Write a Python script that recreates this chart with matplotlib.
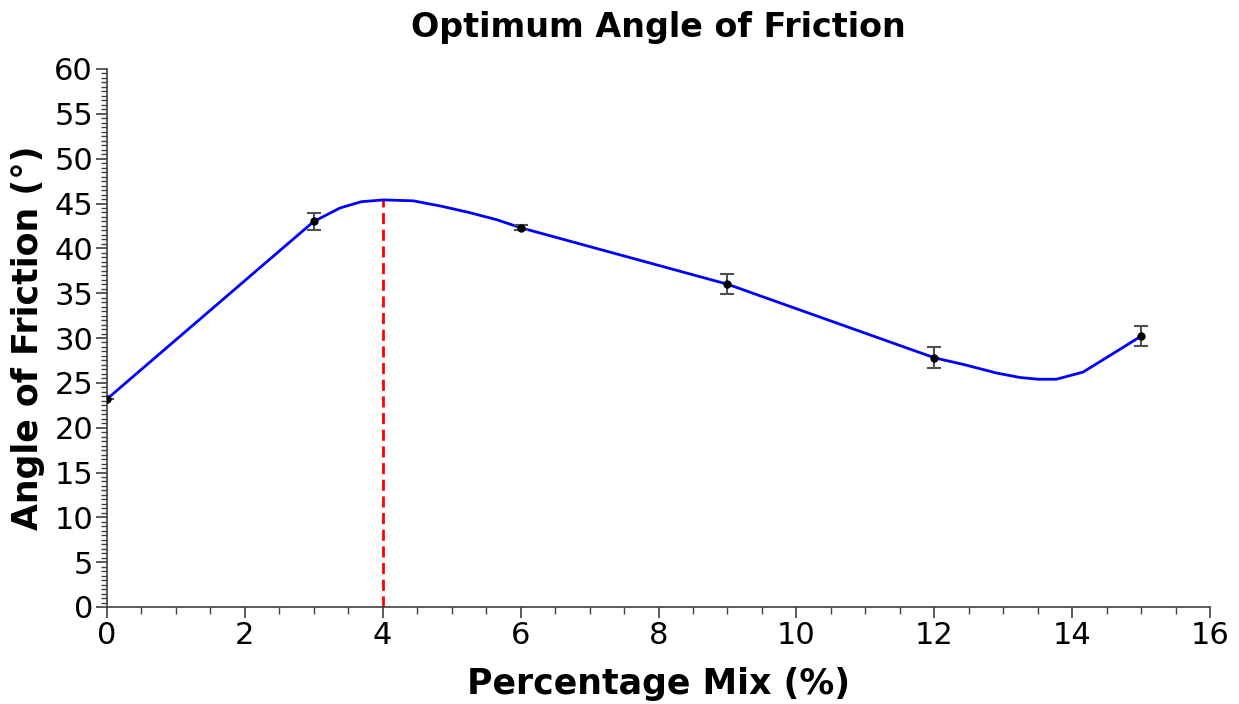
import matplotlib
matplotlib.use("Agg")
import matplotlib.pyplot as plt
from matplotlib.ticker import MultipleLocator

# measured points
mix = [0, 3, 6, 9, 12, 15]
angle = [23.2, 43.0, 42.3, 36.0, 27.8, 30.2]
err = [0.0, 0.9, 0.3, 1.1, 1.2, 1.1]

# smoothed curve vertices
curve_x = [0, 3.0, 3.38, 3.69, 4.01, 4.44, 4.85, 5.25, 5.65, 6.0, 9.0, 12.0, 12.45, 12.9, 13.24, 13.51, 13.77, 14.16, 15.0]
curve_y = [23.2, 43.0, 44.5, 45.2, 45.4, 45.3, 44.7, 44.0, 43.2, 42.3, 36.0, 27.8, 27.0, 26.1, 25.6, 25.4, 25.4, 26.2, 30.2]

optimum_x = 4.0
optimum_y = 45.4

plt.rcParams['font.family'] = ['DejaVu Sans']

fig = plt.figure(figsize=(12.39, 7.04), dpi=100)
ax = fig.add_axes([107/1239, 1-607/704, (1210-107)/1239, (607-69)/704])

ax.plot(curve_x, curve_y, color='#0000ff', lw=2, zorder=3)
ax.errorbar(mix, angle, yerr=err, fmt='o', color='black', ms=5, ecolor='#505050',
            elinewidth=1.5, capsize=5, capthick=1.5, zorder=4)
ax.plot([optimum_x, optimum_x], [0, optimum_y], color='#ff0000', lw=2, ls=(0, (4, 2)), zorder=2)

ax.set_xlim(0, 16)
ax.set_ylim(0, 60)
ax.xaxis.set_major_locator(MultipleLocator(2))
ax.xaxis.set_minor_locator(MultipleLocator(0.5))
ax.yaxis.set_major_locator(MultipleLocator(5))
ax.yaxis.set_minor_locator(MultipleLocator(0.5))

for s in ['top', 'right']:
    ax.spines[s].set_visible(False)
for s in ['left', 'bottom']:
    ax.spines[s].set_color('#404040')
    ax.spines[s].set_linewidth(1.2)

ax.tick_params(axis='both', which='major', direction='out', length=8, width=1.2, color='#404040',
               labelsize=22, pad=2)
ax.tick_params(axis='both', which='minor', direction='out', length=5, width=1, color='#404040')
ax.tick_params(axis='y', which='minor', length=4)

ax.set_title('Optimum Angle of Friction', fontsize=24, fontweight='bold', pad=23)
ax.set_xlabel('Percentage Mix (%)', fontsize=25, fontweight='bold', labelpad=12)
ax.set_ylabel('Angle of Friction (°)', fontsize=25, fontweight='bold', labelpad=7)

fig.savefig('out.png', dpi=100)
